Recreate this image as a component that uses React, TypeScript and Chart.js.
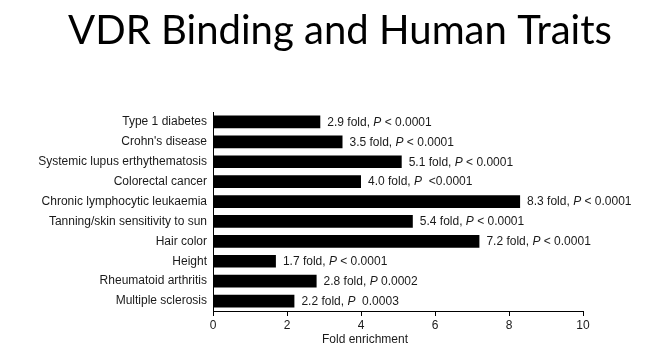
import React, { useEffect, useRef } from "react";
import { Chart, registerables } from "chart.js";

Chart.register(...registerables);

const chartTitle = "VDR Binding and Human Traits";
const xAxisTitle = "Fold enrichment";
const categories = [
  "Type 1 diabetes",
  "Crohn's disease",
  "Systemic lupus erthythematosis",
  "Colorectal cancer",
  "Chronic lymphocytic leukaemia",
  "Tanning/skin sensitivity to sun",
  "Hair color",
  "Height",
  "Rheumatoid arthritis",
  "Multiple sclerosis",
];
const foldValues = [2.9, 3.5, 5.1, 4.0, 8.3, 5.4, 7.2, 1.7, 2.8, 2.2];
const pValues = [
  "< 0.0001",
  "< 0.0001",
  "< 0.0001",
  " <0.0001",
  "< 0.0001",
  "< 0.0001",
  "< 0.0001",
  "< 0.0001",
  "0.0002",
  " 0.0003",
];
const xMin = 0;
const xMax = 10;
const xStep = 2;

const FONT = "'Liberation Sans', Arial, sans-serif";
const TEXT = "#1a1a1a";

const overlayPlugin = {
  id: "overlay",
  afterDatasetsDraw(chart: any) {
    const ctx = chart.ctx;
    const meta = chart.getDatasetMeta(0);
    ctx.save();
    ctx.fillStyle = TEXT;
    ctx.textBaseline = "middle";
    ctx.textAlign = "left";
    meta.data.forEach((bar: any, i: number) => {
      let x = bar.x + 7;
      const y = bar.y + 0.5;
      const a = foldValues[i].toFixed(1) + " fold, ";
      ctx.font = `12px ${FONT}`;
      ctx.fillText(a, x, y);
      x += ctx.measureText(a).width;
      ctx.font = `italic 12px ${FONT}`;
      ctx.fillText("P", x, y);
      x += ctx.measureText("P").width;
      ctx.font = `12px ${FONT}`;
      ctx.fillText(" " + pValues[i], x, y);
    });
    ctx.restore();
  },
  afterDraw(chart: any) {
    const ctx = chart.ctx;
    ctx.save();
    // main title
    let size = 40;
    ctx.font = `${size}px Lato`;
    const w = ctx.measureText(chartTitle).width;
    size = (size * 544) / w;
    ctx.font = `${size}px Lato`;
    ctx.fillStyle = "#000";
    ctx.textAlign = "center";
    ctx.textBaseline = "alphabetic";
    ctx.fillText(chartTitle, 340, 44);
    // x axis title
    ctx.font = `12px ${FONT}`;
    ctx.fillStyle = TEXT;
    ctx.textBaseline = "middle";
    ctx.fillText(xAxisTitle, 365, 340);
    ctx.restore();
  },
};

export default function App() {
  const ref = useRef<HTMLCanvasElement | null>(null);
  useEffect(() => {
    document.body.style.margin = "0";
    const canvas = ref.current;
    if (!canvas) return;
    const chart = new Chart(canvas, {
      type: "bar",
      data: {
        labels: categories,
        datasets: [
          {
            data: foldValues,
            backgroundColor: "#000",
            borderWidth: 0,
            barPercentage: 0.64,
            categoryPercentage: 1,
          },
        ],
      },
      options: {
        indexAxis: "y",
        animation: false,
        responsive: true,
        maintainAspectRatio: false,
        layout: { padding: { top: 112, right: 66, left: 0, bottom: 0 } },
        plugins: {
          legend: { display: false },
          title: { display: false },
          tooltip: { enabled: false },
        },
        scales: {
          x: {
            min: xMin,
            max: xMax,
            afterFit: (s: any) => {
              s.height = 40;
            },
            ticks: {
              stepSize: xStep,
              color: TEXT,
              padding: 2,
              font: { family: FONT, size: 12 },
            },
            grid: {
              display: true,
              drawOnChartArea: false,
              drawTicks: true,
              tickLength: 5,
              color: "#000",
            },
            border: { display: true, color: "#000", width: 1 },
          },
          y: {
            afterFit: (s: any) => {
              s.width = 213;
            },
            ticks: {
              color: TEXT,
              padding: 6,
              font: { family: FONT, size: 12 },
            },
            grid: { display: false, drawTicks: false },
            border: { display: true, color: "#000", width: 1 },
          },
        },
      },
      plugins: [overlayPlugin],
    });
    return () => chart.destroy();
  }, []);
  return (
    <div style={{ position: "relative", width: 649, height: 351 }}>
      <canvas ref={ref} />
    </div>
  );
}
